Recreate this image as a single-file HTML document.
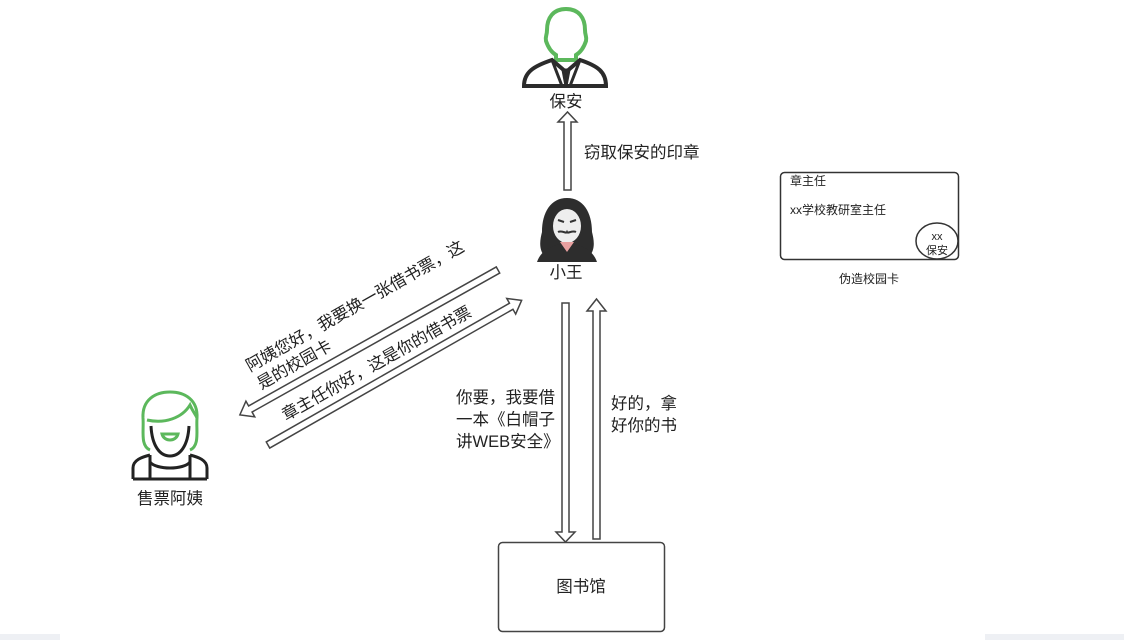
<!DOCTYPE html>
<html><head><meta charset="utf-8"><style>
html,body{margin:0;padding:0;background:#fff;}
svg{display:block;font-family:"Liberation Sans","Noto Sans CJK SC",sans-serif;}
</style></head><body>
<svg width="1124" height="640" viewBox="0 0 1124 640" xmlns="http://www.w3.org/2000/svg">
<rect x="0" y="634" width="60" height="6" fill="#eef0f4"/>
<rect x="985" y="634" width="139" height="6" fill="#eef0f4"/>

<!-- security guard -->
<path d="M566 9 C553 9 547 18 547 30 C547 36 545 36 546 41 C548 47 551 52 556 55 L556 60 L576 60 L576 55 C581 52 584 47 586 41 C587 36 585 36 585 30 C585 18 579 9 566 9 Z" fill="none" stroke="#5cb85c" stroke-width="4"/>
<path d="M524 86 C524 72 534 66 552 60 L566 72 L580 60 C598 66 606 72 606 86 Z" fill="none" stroke="#2b2b2b" stroke-width="4"/>
<path d="M552 60 L562 86 M580 60 L570 86 M563 70 L566 86 L569 70 Z" stroke="#2b2b2b" stroke-width="3" fill="#2b2b2b"/>
<text x="566" y="107" font-size="16.5" text-anchor="middle" fill="#222">保安</text>

<!-- up arrow hacker->guard -->
<polygon points="564,190 564,122 558,122 567.5,112 577,122 571,122 571,190" fill="#fff" stroke="#444" stroke-width="1.5"/>
<text x="584" y="158" font-size="16.5" fill="#222">窃取保安的印章</text>

<!-- hacker -->
<path d="M546 258 C538 250 540 240 542 232 C542 212 551 198 567 198 C583 198 592 212 592 232 C594 240 596 250 588 258 Z" fill="#2d2d2d"/>
<path d="M537 262 C541 250 552 246 560 244 L574 244 C582 246 593 250 597 262 Z" fill="#2d2d2d"/>
<ellipse cx="567" cy="226" rx="14" ry="17" fill="#eee"/>
<path d="M560 242 L567 252 L574 242 Z" fill="#e8a0a0"/>
<path d="M558 232 C562 230 566 234 567 232 C568 234 572 230 576 232" stroke="#333" stroke-width="2" fill="none"/>
<path d="M558 220 L564 222 M570 222 L576 220" stroke="#333" stroke-width="2"/>
<text x="566" y="278" font-size="16.5" text-anchor="middle" fill="#222">小王</text>

<!-- diagonal arrows -->
<g transform="translate(498,270) rotate(150.7)">
<polygon points="0,-3.5 284,-3.5 284,-9 296,0 284,9 284,3.5 0,3.5" fill="#fff" stroke="#444" stroke-width="1.5"/>
</g>
<g transform="translate(268,445) rotate(-29.7)">
<polygon points="0,-3.5 280,-3.5 280,-9 292,0 280,9 280,3.5 0,3.5" fill="#fff" stroke="#444" stroke-width="1.5"/>
</g>
<g transform="translate(250,372) rotate(-29.5)" font-size="16.5" fill="#222">
<text x="0" y="0">阿姨您好，我要换一张借书票，这</text>
<text x="1" y="21">是的校园卡</text>
</g>
<text transform="translate(286,421) rotate(-29.5)" font-size="16.5" fill="#222">章主任你好，这是你的借书票</text>

<!-- woman -->
<path d="M150 450 C140 446 144 430 143 418 C142 400 155 392 170 392 C185 392 198 400 197 418 C196 430 200 446 190 450" fill="none" stroke="#5cb85c" stroke-width="3"/>
<path d="M147 420 C165 424 182 418 190 405 C193 412 196 415 197 418" fill="none" stroke="#5cb85c" stroke-width="3"/>
<path d="M151 426 C152 446 160 456 170 456 C180 456 188 446 189 426" fill="none" stroke="#222" stroke-width="3"/>
<path d="M162 434 L178 434 C176 442 164 442 162 434 Z" fill="none" stroke="#5cb85c" stroke-width="3"/>
<path d="M133 479 L133 468 C133 460 142 457 150 455 M207 479 L207 468 C207 460 198 457 190 455 M133 479 L207 479 M150 462 C156 470 184 470 190 462 M150 455 L150 479 M190 455 L190 479" fill="none" stroke="#222" stroke-width="3"/>
<text x="170" y="504" font-size="16.5" text-anchor="middle" fill="#222">售票阿姨</text>

<!-- vertical arrows -->
<polygon points="562,303 569,303 569,532 575,532 565.5,542 556,532 562,532" fill="#fff" stroke="#444" stroke-width="1.5"/>
<polygon points="593,539 600,539 600,311 606,311 596.5,299 587,311 593,311" fill="#fff" stroke="#444" stroke-width="1.5"/>
<g font-size="16.5" fill="#222">
<text x="456" y="403">你要，我要借</text>
<text x="456" y="425">一本《白帽子</text>
<text x="456" y="447">讲WEB安全》</text>
<text x="611" y="409">好的，拿</text>
<text x="611" y="431">好你的书</text>
</g>

<!-- library -->
<rect x="498.5" y="542.5" width="166" height="89" rx="4" fill="#fff" stroke="#444" stroke-width="1.5"/>
<text x="581" y="592" font-size="16.5" text-anchor="middle" fill="#222">图书馆</text>

<!-- card -->
<rect x="780.5" y="172.5" width="178" height="87" rx="4" fill="#fff" stroke="#333" stroke-width="1.5"/>
<text x="790" y="185" font-size="12" fill="#222">章主任</text>
<text x="790" y="214" font-size="12" fill="#222">xx学校教研室主任</text>
<ellipse cx="937" cy="241" rx="21" ry="18" fill="none" stroke="#333" stroke-width="1.5"/>
<text x="937" y="240" font-size="11" text-anchor="middle" fill="#222">xx</text>
<text x="937" y="254" font-size="11" text-anchor="middle" fill="#222">保安</text>
<text x="869" y="283" font-size="12" text-anchor="middle" fill="#222">伪造校园卡</text>
</svg>
</body></html>
